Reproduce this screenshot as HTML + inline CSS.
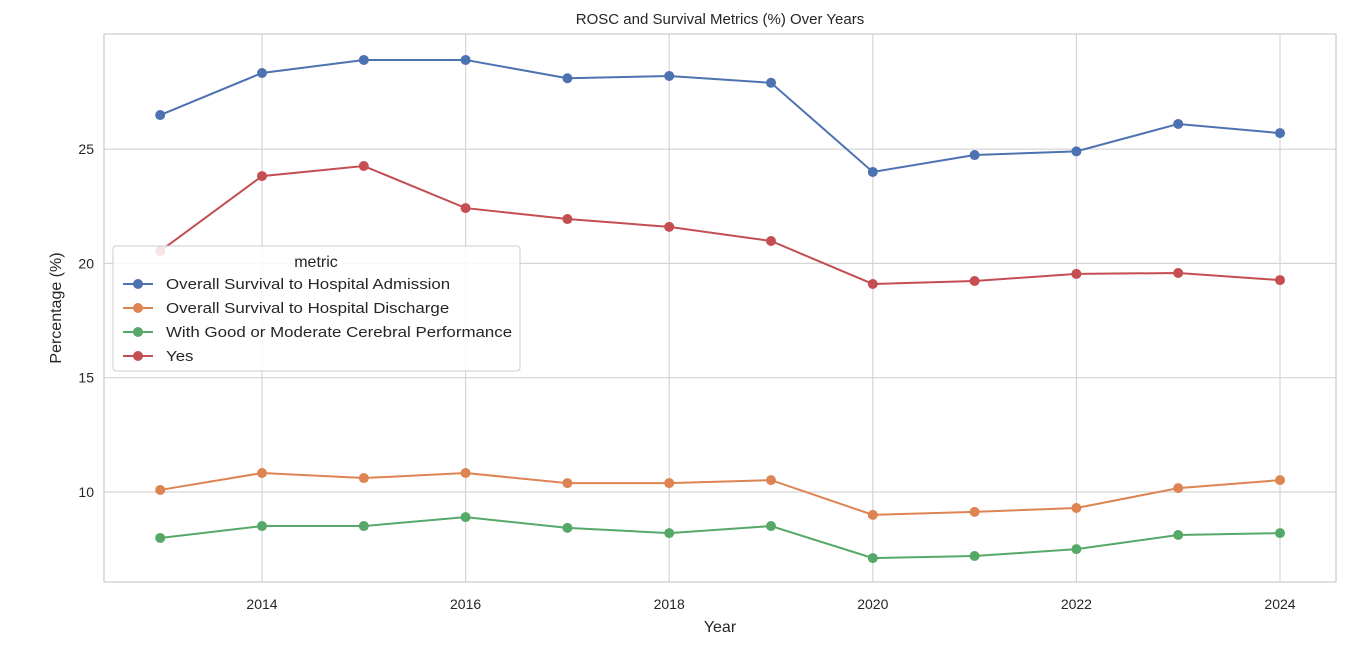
<!DOCTYPE html>
<html><head><meta charset="utf-8"><style>
html,body{margin:0;padding:0;background:#fff;}
svg{display:block;font-family:"Liberation Sans",Arial,sans-serif;}
</style></head><body>
<svg id="chart" width="1363" height="645" viewBox="0 0 1363 645" xmlns="http://www.w3.org/2000/svg">
<rect width="1363" height="645" fill="#fff"/>
<g id="grid"></g>
<g id="series"></g>
<rect x="104" y="34" width="1232" height="548" fill="none" stroke="#cccccc" stroke-width="1.2"/>
<g id="ticks"></g>
<text x="720" y="24" text-anchor="middle" font-size="15" fill="#262626">ROSC and Survival Metrics (%) Over Years</text>
<text x="720" y="632" text-anchor="middle" font-size="16" fill="#262626">Year</text>
<text x="61" y="308" text-anchor="middle" font-size="16" fill="#262626" transform="rotate(-90 61 308)">Percentage (%)</text>
<g id="legend">
<rect x="113" y="246" width="407" height="125" rx="3" fill="#fff" fill-opacity="0.85" stroke="#cccccc"/>
<text x="316" y="267" text-anchor="middle" font-size="16" fill="#262626">metric</text>
</g>
</svg>
<script>
const years = [2013,2014,2015,2016,2017,2018,2019,2020,2021,2022,2023,2024];
const admission = [26.49,28.33,28.9,28.9,28.1,28.2,27.9,24.0,24.74,24.9,26.1,25.7];
const discharge = [10.09,10.83,10.61,10.83,10.39,10.39,10.52,9.0,9.13,9.3,10.17,10.52];
const cerebral = [7.99,8.51,8.51,8.9,8.43,8.2,8.51,7.11,7.2,7.5,8.12,8.2];
const yes = [20.54,23.82,24.26,22.42,21.94,21.6,20.98,19.1,19.23,19.54,19.58,19.27];
const seriesNames = ["Overall Survival to Hospital Admission","Overall Survival to Hospital Discharge","With Good or Moderate Cerebral Performance","Yes"];
const xTicks = [2014,2016,2018,2020,2022,2024];
const yTicks = [10,15,20,25];

const NS="http://www.w3.org/2000/svg";
function xs(v){return 262+(v-2014)*101.8;}
function ys(v){return 492-(v-10)*22.86;}
function mk(tag,attrs,parent){const e=document.createElementNS(NS,tag);for(const k in attrs)e.setAttribute(k,attrs[k]);parent.appendChild(e);return e;}
const grid=document.getElementById('grid'),ticks=document.getElementById('ticks'),sg=document.getElementById('series'),lg=document.getElementById('legend');
xTicks.forEach(t=>{
  const l=mk('line',{x1:xs(t),x2:xs(t),y1:34,y2:582,stroke:'#d5d5d5','stroke-width':1.2},grid);
  
  
  const tx=mk('text',{x:xs(t),y:609,'text-anchor':'middle','font-size':14,fill:'#262626'},ticks);
  tx.textContent=t;
  
  
});
yTicks.forEach(t=>{
  const l=mk('line',{x1:104,x2:1336,y1:ys(t),y2:ys(t),stroke:'#d5d5d5','stroke-width':1.2},grid);
  
  
  const tx=mk('text',{x:94,y:ys(t)+5,'text-anchor':'end','font-size':14,fill:'#262626'},ticks);
  tx.textContent=t;
  
  
});
const data=[admission,discharge,cerebral,yes];
const colors=['#4c72b0','#dd8452','#55a868','#c44e52'];
data.forEach((arr,i)=>{
  const g=mk('g',{},sg);
  
  
  const pts=arr.map((v,j)=>xs(years[j])+','+ys(v)).join(' ');
  const pl=mk('polyline',{points:pts,fill:'none',stroke:colors[i],'stroke-width':2},g);
  
  
  arr.forEach((v,j)=>{
    const c=mk('circle',{cx:xs(years[j]),cy:ys(v),r:5,fill:colors[i]},g);
    
    
  });
  const ly=284+i*24;
  const ll=mk('line',{x1:123,x2:153,y1:ly,y2:ly,stroke:colors[i],'stroke-width':2},lg);
  
  
  const lc=mk('circle',{cx:138,cy:ly,r:5,fill:colors[i]},lg);
  
  
  const lt=mk('text',{x:166,y:ly+5,'font-size':15,fill:'#262626'},lg);
  lt.textContent=seriesNames[i];
  
  
  const w=lt.getComputedTextLength();
  if(w>0){lt.setAttribute('textLength',(w*1.125).toFixed(1));lt.setAttribute('lengthAdjust','spacingAndGlyphs');}
});
</script>
</body></html>
